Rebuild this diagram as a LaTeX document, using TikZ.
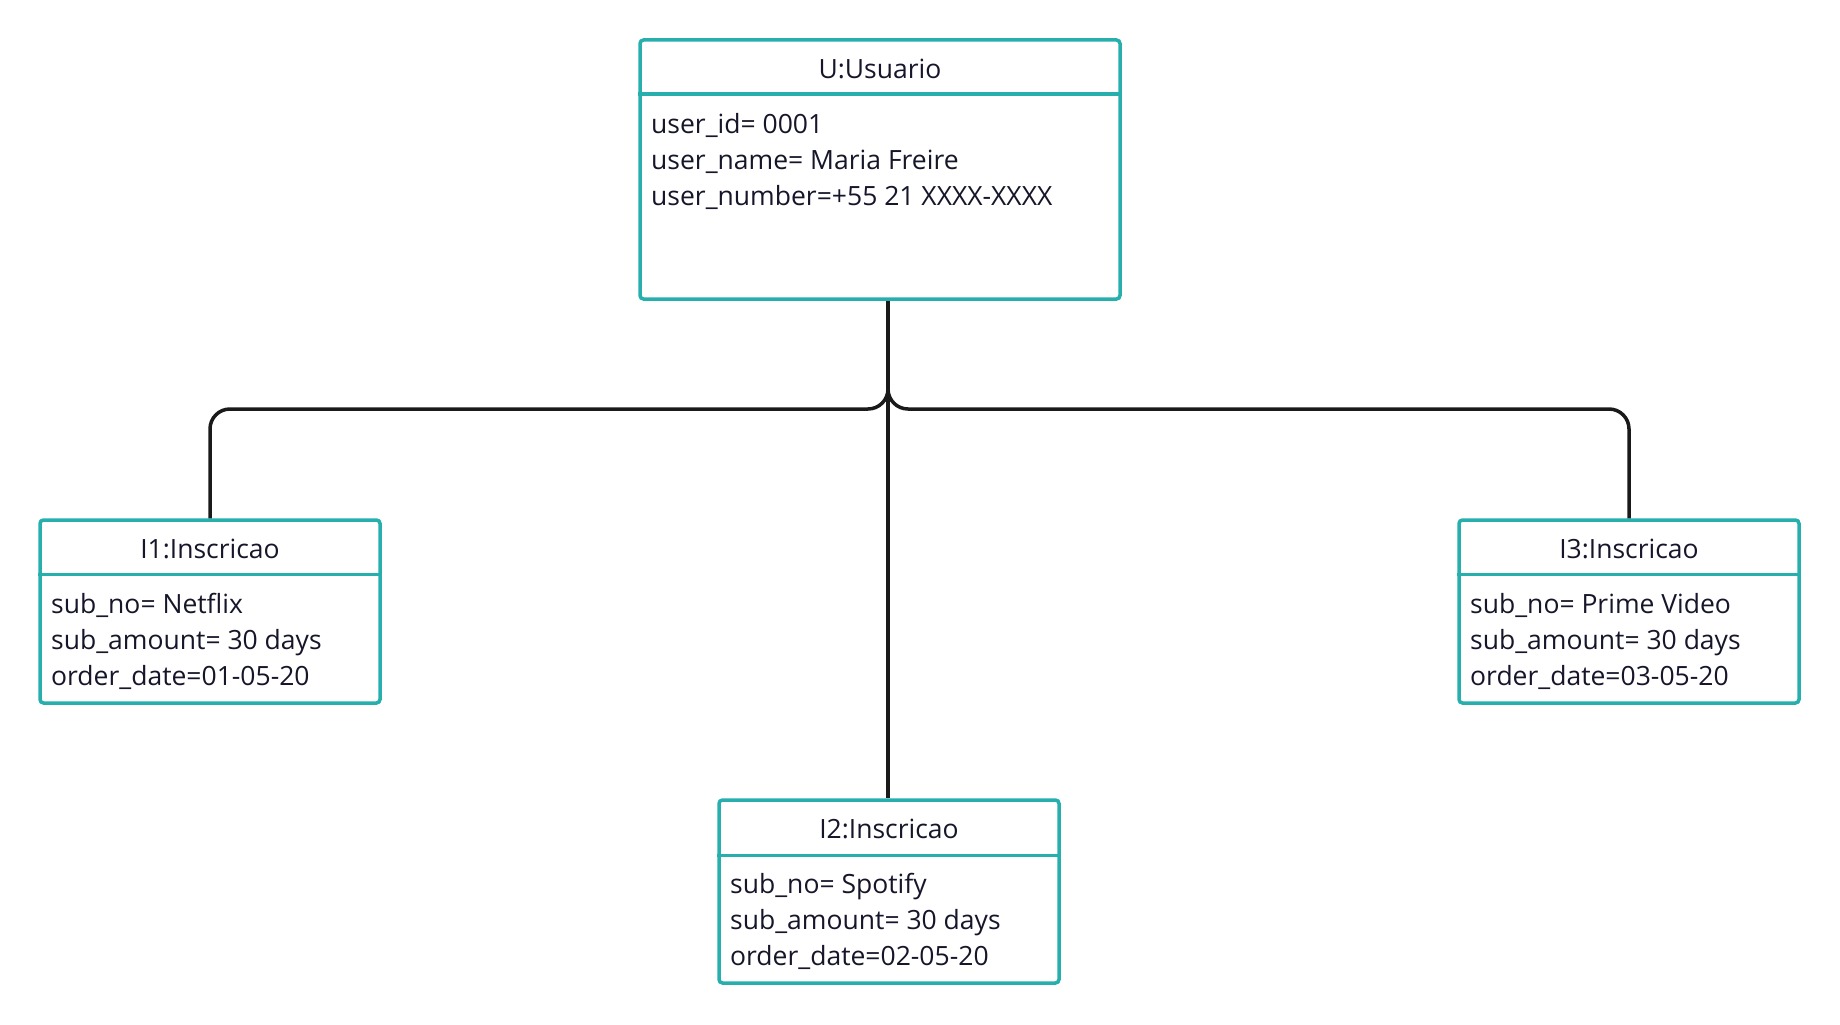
\documentclass[tikz,border=0pt]{standalone}
\usepackage{fontspec}
\setmainfont{Open Sans}
\usetikzlibrary{calc}
\definecolor{boxteal}{HTML}{27AFAE}
\definecolor{ink}{HTML}{16162A}
\definecolor{wire}{HTML}{1A1A1A}
\tikzset{
  classbox/.style={draw=boxteal, line width=3.5pt, rounded corners=3.5pt, inner sep=0pt},
  headline/.style={draw=boxteal, line width=3.5pt},
  ttl/.style={anchor=base, inner sep=0pt, text=ink, font=\fontsize{26.5}{31}\selectfont},
  attr/.style={anchor=base west, inner sep=0pt, text=ink, font=\fontsize{26.5}{31}\selectfont},
  conn/.style={draw=wire, line width=3.5pt, rounded corners=20pt},
  trunk/.style={draw=wire, line width=3.5pt}
}
\begin{document}
\begin{tikzpicture}[x=1pt, y=-1pt]
\useasboundingbox (0,0) rectangle (1840,1025);
% boxes
\node[classbox, minimum width=480pt, minimum height=259pt] (U) at (880,169.5) {};
\node[classbox, minimum width=340pt, minimum height=183pt] (I1) at (210,611.5) {};
\node[classbox, minimum width=340pt, minimum height=183pt] (I3) at (1629,611.5) {};
\node[classbox, minimum width=340pt, minimum height=183pt] (I2) at (889,891.5) {};
% header separators
\draw[headline] ($(U.north west)+(0,56)$) -- ($(U.north east)+(0,56)$);
\draw[headline] ($(I1.north west)+(0,56)$) -- ($(I1.north east)+(0,56)$);
\draw[headline] ($(I3.north west)+(0,56)$) -- ($(I3.north east)+(0,56)$);
\draw[headline] ($(I2.north west)+(0,57)$) -- ($(I2.north east)+(0,57)$);
% titles
\node[ttl] (Ut) at (880,78) {U:Usuario};
\node[ttl] (I1t) at (210,558) {I1:Inscricao};
\node[ttl] (I3t) at (1629,558) {I3:Inscricao};
\node[ttl] (I2t) at (889,838) {I2:Inscricao};
% attributes
\node[attr] (Ua) at (651,133) {user\_id= 0001};
\node[attr] (Ub) at (651,169) {user\_name= Maria Freire};
\node[attr] (Uc) at (651,205) {user\_number=+55 21 XXXX-XXXX};
\node[attr] (I1a) at (51,613) {sub\_no= Netflix};
\node[attr] (I1b) at (51,649) {sub\_amount= 30 days};
\node[attr] (I1c) at (51,685) {order\_date=01-05-20};
\node[attr] (I3a) at (1470,613) {sub\_no= Prime Video};
\node[attr] (I3b) at (1470,649) {sub\_amount= 30 days};
\node[attr] (I3c) at (1470,685) {order\_date=03-05-20};
\node[attr] (I2a) at (730,893) {sub\_no= Spotify};
\node[attr] (I2b) at (730,929) {sub\_amount= 30 days};
\node[attr] (I2c) at (730,965) {order\_date=02-05-20};
% connectors
\coordinate (uout) at ([xshift=8pt]U.south);
\coordinate (bus) at (888,409);
\coordinate (split) at (888,370);
\draw[trunk] (uout) -- (uout |- I2.north);
\draw[conn] (split) -- (bus) -- (bus -| I1.north) -- (I1.north);
\draw[conn] (split) -- (bus) -- (bus -| I3.north) -- (I3.north);
\end{tikzpicture}
\end{document}
